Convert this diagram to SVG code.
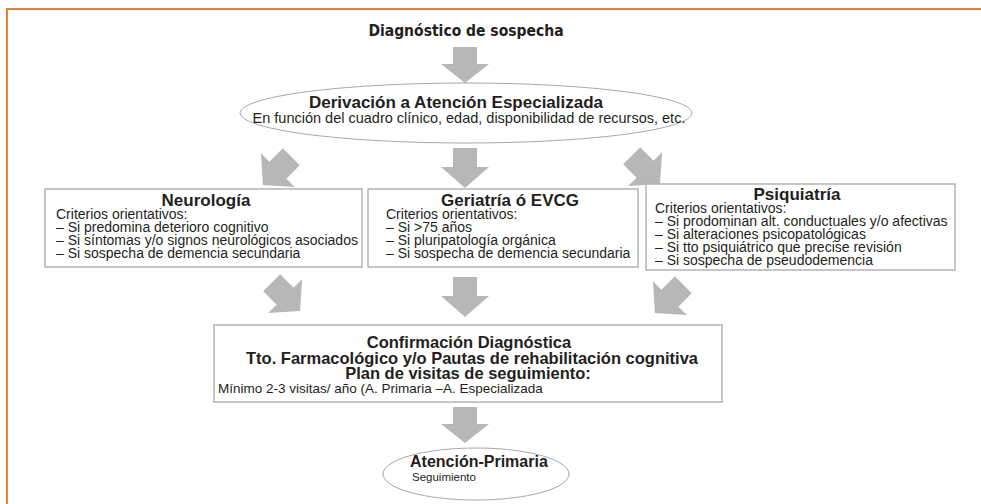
<svg xmlns="http://www.w3.org/2000/svg" xmlns:xlink="http://www.w3.org/1999/xlink" width="981" height="504" viewBox="0 0 981 504">
<style>
  .frame{stroke:#e57f3a;stroke-width:2;fill:none}
  .box{fill:#fff;stroke:#b4b4b4;stroke-width:1.5}
  .ell{fill:#fff;stroke:#a8a8a8;stroke-width:1}
  .arr{fill:#b7b7ba}
  text{font-family:"Liberation Sans",Arial,sans-serif;fill:#231f20}
  .h{font-weight:bold;font-size:17px;text-anchor:middle}
  .b{font-size:14px}
  .top{font-family:"DejaVu Sans Condensed","DejaVu Sans",sans-serif;font-weight:bold;font-size:15.5px;text-anchor:middle}
</style>
<defs>
  <path id="ar" d="M-12,-40 L12,-40 L12,-21 L24,-21 L0,0 L-24,-21 L-12,-21 Z"/>
</defs>
<rect width="981" height="504" fill="#fff"/>
<path class="frame" d="M7,504 L7,9 L981,9"/>

<g id="connectors" class="arr">
  <use xlink:href="#ar" transform="translate(465,83) scale(1,0.9)"/>
  <use xlink:href="#ar" transform="translate(263,185) rotate(45)"/>
  <use xlink:href="#ar" transform="translate(465,188)"/>
  <use xlink:href="#ar" transform="translate(660,184) rotate(-45)"/>
  <use xlink:href="#ar" transform="translate(300,311) rotate(-45)"/>
  <use xlink:href="#ar" transform="translate(465,317)"/>
  <use xlink:href="#ar" transform="translate(655,313) rotate(45)"/>
  <use xlink:href="#ar" transform="translate(465,443) scale(1,0.9)"/>
</g>

<g id="n-sospecha">
  <text class="top" x="466" y="36">Diagnóstico de sospecha</text>
</g>

<g id="n-derivacion">
  <ellipse class="ell" cx="466" cy="113" rx="226" ry="30"/>
  <text class="h" x="456" y="108">Derivación a Atención Especializada</text>
  <text x="469" y="123" style="font-size:14.5px;text-anchor:middle">En función del cuadro clínico, edad, disponibilidad de recursos, etc.</text>
</g>

<g id="n-neurologia">
  <rect class="box" x="45" y="189" width="317" height="78"/>
  <text class="h" x="206" y="206">Neurología</text>
  <text class="b" x="56" y="219">Criterios orientativos:</text>
  <text class="b" x="56" y="232">– Si predomina deterioro cognitivo</text>
  <text class="b" x="56" y="245">– Si síntomas y/o signos neurológicos asociados</text>
  <text class="b" x="56" y="258">– Si sospecha de demencia secundaria</text>
</g>

<g id="n-geriatria">
  <rect class="box" x="368" y="189" width="270" height="78"/>
  <text class="h" x="510" y="206">Geriatría ó EVCG</text>
  <text class="b" x="386" y="219">Criterios orientativos:</text>
  <text class="b" x="386" y="232">– Si &gt;75 años</text>
  <text class="b" x="386" y="245">– Si pluripatología orgánica</text>
  <text class="b" x="386" y="258">– Si sospecha de demencia secundaria</text>
</g>

<g id="n-psiquiatria">
  <rect class="box" x="646" y="184" width="309" height="86"/>
  <text class="h" x="797" y="200">Psiquiatría</text>
  <text class="b" x="655" y="213">Criterios orientativos:</text>
  <text class="b" x="655" y="226">– Si prodominan alt. conductuales y/o afectivas</text>
  <text class="b" x="655" y="239">– Si alteraciones psicopatológicas</text>
  <text class="b" x="655" y="252">– Si tto psiquiátrico que precise revisión</text>
  <text class="b" x="655" y="265">– Si sospecha de pseudodemencia</text>
</g>

<g id="n-confirmacion">
  <rect class="box" x="214" y="325" width="508" height="77"/>
  <text class="h" x="469" y="348" style="font-size:16.5px">Confirmación Diagnóstica</text>
  <text class="h" x="472" y="364" style="font-size:16.5px">Tto. Farmacológico y/o Pautas de rehabilitación cognitiva</text>
  <text class="h" x="468" y="379" style="font-size:16.5px">Plan de visitas de seguimiento:</text>
  <text x="218" y="393" style="font-size:13.5px">Mínimo 2-3 visitas/ año (A. Primaria –A. Especializada</text>
</g>

<g id="n-primaria">
  <ellipse class="ell" cx="476" cy="474" rx="93" ry="26"/>
  <text x="410" y="467" style="font-weight:bold;font-size:16px">Atención-Primaria</text>
  <text x="412" y="481" style="font-size:11.5px">Seguimiento</text>
</g>
</svg>
